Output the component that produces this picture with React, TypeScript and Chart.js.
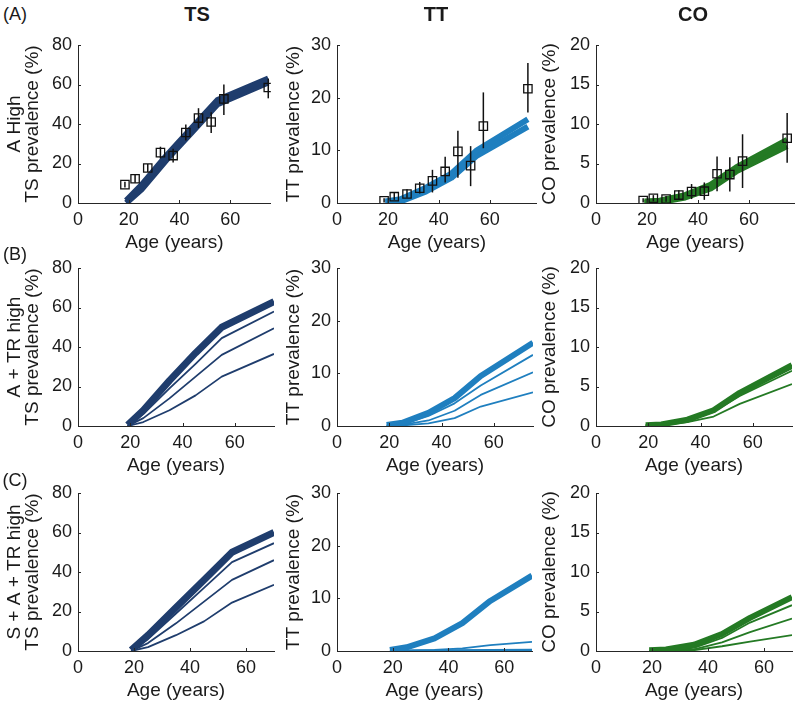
import React, { useEffect, useRef } from "react";
import { Chart, registerables } from "chart.js";

Chart.register(...registerables);

// ---------------- data ----------------
const modelAgesAB = [19, 25, 35, 45, 55, 75];
const modelAgesC = [19, 25, 35, 45, 55, 70];
const obsAges = [18.5, 22.5, 27.5, 32.5, 37.5, 42.5, 47.5, 52.5, 57.5, 75];

// observed (row A)
const tsObs = [9.3, 12.3, 17.7, 25.5, 24, 35.7, 43, 41, 52.7, 58.5];
const tsObsLo = [7.8, 10.3, 15.7, 22.5, 20.5, 31.7, 38, 35.5, 44.5, 53];
const tsObsHi = [10.8, 14.3, 19.7, 28.5, 27.5, 39.7, 48, 46, 60, 63];
const ttObs = [0.4, 1.2, 1.7, 2.8, 4.2, 6.0, 9.8, 7.1, 14.6, 21.7];
const ttObsLo = [0.1, 0.6, 1.0, 1.8, 2.0, 3.9, 4.8, 3.2, 10.4, 17.2];
const ttObsHi = [0.9, 1.9, 2.6, 4.0, 6.3, 8.8, 13.7, 10.8, 21.0, 26.6];
const coObs = [0.3, 0.6, 0.5, 1.0, 1.45, 1.5, 3.7, 3.6, 5.3, 8.2];
const coObsLo = [0.05, 0.2, 0.15, 0.4, 0.5, 0.4, 1.5, 1.45, 1.9, 5.1];
const coObsHi = [0.6, 1.0, 0.9, 1.6, 2.4, 2.6, 5.9, 5.8, 8.7, 11.4];

// model band (row A)
const tsBandLoA = [0, 6.8, 22, 36, 50, 61];
const tsBandHiA = [1.2, 9, 24.2, 38.2, 52.2, 63];
const ttBandLoA = [0, 0.3, 2.2, 4.8, 9.0, 14.5];
const ttBandHiA = [0.3, 0.7, 2.9, 5.6, 10.0, 15.9];
const coBandLoA = [0, 0.1, 0.7, 1.85, 4.0, 7.2];
const coBandHiA = [0.2, 0.3, 1.0, 2.3, 4.5, 8.0];

// row B (A + TR high)
const tsB1 = [0.5, 8, 23, 37, 50, 63];
const tsB2 = [0, 6, 19, 31.5, 44.5, 58];
const tsB3 = [0, 4, 14, 25, 36, 49.5];
const tsB4 = [0, 2, 8, 15.5, 25, 36.5];
const ttB1 = [0.2, 0.6, 2.5, 5.3, 9.5, 15.8];
const ttB2 = [0.1, 0.3, 1.9, 4.3, 7.7, 13.5];
const ttB3 = [0.05, 0.2, 1.05, 2.9, 5.9, 10.2];
const ttB4 = [0, 0.1, 0.5, 1.5, 3.7, 6.4];
const coB1 = [0.1, 0.2, 0.8, 2.0, 4.2, 7.7];
const coB2 = [0.1, 0.2, 0.75, 1.9, 4.0, 7.3];
const coB3 = [0.1, 0.2, 0.7, 1.8, 3.8, 7.0];
const coB4 = [0.05, 0.1, 0.5, 1.2, 2.8, 5.3];

// row C (S + A + TR high)
const tsC1 = [0.5, 8, 22, 36, 50, 60];
const tsC2 = [0, 6, 19, 32, 45, 54.6];
const tsC3 = [0, 4, 14, 25, 36, 46];
const tsC4 = [0, 2, 8, 15, 24.5, 33.5];
const ttC1 = [0.2, 0.7, 2.4, 5.3, 9.5, 14.3];
const ttC2 = [0.05, 0.1, 0.2, 0.5, 1.1, 1.75];
const ttC3 = [0, 0.05, 0.1, 0.15, 0.2, 0.25];
const ttC4 = [0, 0, 0.05, 0.1, 0.1, 0.15];
const coC1 = [0.1, 0.2, 0.8, 2.15, 4.2, 6.8];
const coC2 = [0.05, 0.15, 0.4, 1.65, 3.6, 5.8];
const coC3 = [0, 0.1, 0.2, 1.1, 2.4, 4.1];
const coC4 = [0, 0.05, 0.1, 0.6, 1.2, 2.0];

// ticks and labels
const xTicks = [0, 20, 40, 60];
const tsTicks = [0, 20, 40, 60, 80];
const ttTicks = [0, 10, 20, 30];
const coTicks = [0, 5, 10, 15, 20];
const xTitle = "Age (years)";
const ttTitle = "TT prevalence (%)";
const coTitle = "CO prevalence (%)";
const tsTitleA = ["A High", "TS prevalence (%)"];
const tsTitleB = ["A + TR high", "TS prevalence (%)"];
const tsTitleC = ["S + A + TR high", "TS prevalence (%)"];
const colTitles = ["TS", "TT", "CO"];
const rowLabels = ["(A)", "(B)", "(C)"];

// ---------------- style ----------------
const FONT = "'Liberation Sans', Arial, Helvetica, sans-serif";
const TEXT = "#1a1a1a";
const AXIS = "#262626";
const C_TS = "#1f3d6d";
const C_TT = "#1f7fbf";
const C_CO = "#247a24";

Chart.defaults.font.family = FONT;

const PAD_L = 77;
const PAD_T = 12;
const PAD_R = 4;
const PAD_B = 56;

function lineDs(ages: number[], vals: number[], color: string, width: number) {
  return {
    data: ages.map((a, i) => ({ x: a, y: vals[i] })),
    showLine: true,
    borderColor: color,
    backgroundColor: color,
    borderWidth: width,
    pointRadius: 0,
    borderJoinStyle: "round",
    borderCapStyle: "butt",
    tension: 0,
  };
}

function obsDs(ages: number[], vals: number[], lo: number[], hi: number[]) {
  return {
    data: ages.map((a, i) => ({ x: a, y: vals[i] })),
    showLine: false,
    pointStyle: "rect",
    pointRadius: 5.9,
    pointBorderWidth: 1.3,
    pointBorderColor: "#111111",
    pointBackgroundColor: "rgba(0,0,0,0)",
    errLo: lo,
    errHi: hi,
  };
}

const errorBars = {
  id: "errorBars",
  afterDatasetsDraw(chart: any) {
    const { ctx, scales } = chart;
    const xs = scales.x;
    const ys = scales.y;
    ctx.save();
    ctx.strokeStyle = "#111111";
    ctx.lineWidth = 1.5;
    chart.data.datasets.forEach((ds: any) => {
      if (!ds.errLo) return;
      ds.data.forEach((p: any, j: number) => {
        const x = xs.getPixelForValue(p.x);
        ctx.beginPath();
        ctx.moveTo(x, ys.getPixelForValue(ds.errLo[j]));
        ctx.lineTo(x, ys.getPixelForValue(ds.errHi[j]));
        ctx.stroke();
      });
    });
    ctx.restore();
  },
};

const tickMarks = {
  id: "tickMarks",
  afterDraw(chart: any) {
    const { ctx, chartArea, scales } = chart;
    ctx.save();
    ctx.strokeStyle = AXIS;
    ctx.lineWidth = 1;
    ctx.beginPath();
    scales.x.ticks.forEach((t: any) => {
      const px = Math.round(scales.x.getPixelForValue(t.value)) + 0.5;
      ctx.moveTo(px, chartArea.bottom);
      ctx.lineTo(px, chartArea.bottom - 3);
    });
    scales.y.ticks.forEach((t: any) => {
      const py = Math.round(scales.y.getPixelForValue(t.value)) + 0.5;
      ctx.moveTo(chartArea.left, py);
      ctx.lineTo(chartArea.left + 3, py);
    });
    ctx.stroke();
    ctx.restore();
  },
};

type PanelCfg = {
  left: number;
  top: number;
  right: number;
  bottom: number;
  xMax: number;
  yMax: number;
  yTicks: number[];
  yTitle: string | string[];
  yTitlePad: number;
  datasets: any[];
};

function Panel({ cfg }: { cfg: PanelCfg }) {
  const ref = useRef<HTMLCanvasElement>(null);
  const w = cfg.right - cfg.left + PAD_L + PAD_R;
  const h = cfg.bottom - cfg.top + PAD_T + PAD_B;
  useEffect(() => {
    const chart = new Chart(ref.current as HTMLCanvasElement, {
      type: "scatter",
      data: { datasets: cfg.datasets },
      options: {
        responsive: false,
        animation: false,
        events: [],
        layout: { padding: { left: 0, top: PAD_T, right: PAD_R, bottom: 0 } },
        plugins: {
          legend: { display: false },
          tooltip: { enabled: false },
          title: { display: false },
        },
        scales: {
          x: {
            type: "linear",
            min: 0,
            max: cfg.xMax,
            afterBuildTicks: (s: any) => {
              s.ticks = xTicks.map((v) => ({ value: v }));
            },
            afterFit: (s: any) => {
              s.height = PAD_B;
            },
            grid: { display: false, drawTicks: false },
            border: { display: true, color: AXIS, width: 1 },
            ticks: {
              color: TEXT,
              font: { size: 18, lineHeight: 1 },
              padding: 8.5,
              maxRotation: 0,
              autoSkip: false,
            },
            title: {
              display: true,
              text: xTitle,
              color: TEXT,
              font: { size: 19, lineHeight: 0.96 },
              padding: { top: 0, bottom: 6.9 },
            },
          },
          y: {
            type: "linear",
            min: 0,
            max: cfg.yMax,
            afterBuildTicks: (s: any) => {
              s.ticks = cfg.yTicks.map((v) => ({ value: v }));
            },
            afterFit: (s: any) => {
              s.width = PAD_L;
            },
            grid: { display: false, drawTicks: false },
            border: { display: true, color: AXIS, width: 1 },
            ticks: {
              color: TEXT,
              font: { size: 18, lineHeight: 1 },
              padding: 6,
              autoSkip: false,
            },
            title: {
              display: true,
              text: cfg.yTitle,
              color: TEXT,
              font: { size: 19, lineHeight: 0.96 },
              padding: { top: cfg.yTitlePad, bottom: 0 },
            },
          },
        },
      } as any,
      plugins: [errorBars, tickMarks],
    });
    return () => chart.destroy();
  }, []);
  return (
    <canvas
      ref={ref}
      width={w}
      height={h}
      style={{
        position: "absolute",
        left: cfg.left - PAD_L,
        top: cfg.top - PAD_T,
        width: w,
        height: h,
      }}
    />
  );
}

// layout of the 3x3 grid (plot areas in page pixels)
const rowTop = [42, 265, 490];
const rowBottom = [203, 426, 651];
const colLeft = [78, 337, 596];
const colRight = [
  [274, 540, 798],
  [274, 533, 792],
  [274, 532, 792],
];
const xMaxes = [
  [76, 78.5, 78],
  [75, 75, 75],
  [70, 70, 70],
];
const yTitlePads = [4.9, 24.2, 21.9];

function buildPanels(): PanelCfg[] {
  const series = [
    [
      [obsDs(obsAges, tsObs, tsObsLo, tsObsHi), lineDs(modelAgesAB, tsBandHiA, C_TS, 6), lineDs(modelAgesAB, tsBandLoA, C_TS, 6)],
      [obsDs(obsAges, ttObs, ttObsLo, ttObsHi), lineDs(modelAgesAB, ttBandHiA, C_TT, 6), lineDs(modelAgesAB, ttBandLoA, C_TT, 6)],
      [obsDs(obsAges, coObs, coObsLo, coObsHi), lineDs(modelAgesAB, coBandHiA, C_CO, 6), lineDs(modelAgesAB, coBandLoA, C_CO, 6)],
    ],
    [
      [lineDs(modelAgesAB, tsB1, C_TS, 7), lineDs(modelAgesAB, tsB2, C_TS, 1.8), lineDs(modelAgesAB, tsB3, C_TS, 1.8), lineDs(modelAgesAB, tsB4, C_TS, 1.8)],
      [lineDs(modelAgesAB, ttB1, C_TT, 6), lineDs(modelAgesAB, ttB2, C_TT, 1.8), lineDs(modelAgesAB, ttB3, C_TT, 1.8), lineDs(modelAgesAB, ttB4, C_TT, 1.8)],
      [lineDs(modelAgesAB, coB1, C_CO, 6), lineDs(modelAgesAB, coB2, C_CO, 1.8), lineDs(modelAgesAB, coB3, C_CO, 1.8), lineDs(modelAgesAB, coB4, C_CO, 1.8)],
    ],
    [
      [lineDs(modelAgesC, tsC1, C_TS, 7), lineDs(modelAgesC, tsC2, C_TS, 1.8), lineDs(modelAgesC, tsC3, C_TS, 1.8), lineDs(modelAgesC, tsC4, C_TS, 1.8)],
      [lineDs(modelAgesC, ttC1, C_TT, 6), lineDs(modelAgesC, ttC2, C_TT, 1.8), lineDs(modelAgesC, ttC3, C_TT, 1.8), lineDs(modelAgesC, ttC4, C_TT, 1.8)],
      [lineDs(modelAgesC, coC1, C_CO, 6), lineDs(modelAgesC, coC2, C_CO, 1.8), lineDs(modelAgesC, coC3, C_CO, 1.8), lineDs(modelAgesC, coC4, C_CO, 1.8)],
    ],
  ];
  const tsTitles = [tsTitleA, tsTitleB, tsTitleC];
  const yMaxes = [80, 30, 20];
  const yTickSets = [tsTicks, ttTicks, coTicks];
  const out: PanelCfg[] = [];
  for (let r = 0; r < 3; r++) {
    for (let c = 0; c < 3; c++) {
      out.push({
        left: colLeft[c],
        top: rowTop[r],
        right: colRight[r][c],
        bottom: rowBottom[r],
        xMax: xMaxes[r][c],
        yMax: yMaxes[c],
        yTicks: yTickSets[c],
        yTitle: c === 0 ? tsTitles[r] : c === 1 ? ttTitle : coTitle,
        yTitlePad: yTitlePads[c],
        datasets: series[r][c],
      });
    }
  }
  return out;
}

const colTitleX = [197, 436, 693];
const rowLabelY = [13.5, 254, 480];

export default function App() {
  const panels = buildPanels();
  return (
    <div
      style={{
        position: "absolute",
        left: 0,
        top: 0,
        width: 800,
        height: 706,
        overflow: "hidden",
        background: "#ffffff",
        fontFamily: FONT,
        color: TEXT,
      }}
    >
      {panels.map((p, i) => (
        <Panel key={i} cfg={p} />
      ))}
      {colTitles.map((t, i) => (
        <div
          key={"t" + i}
          style={{
            position: "absolute",
            left: colTitleX[i],
            top: 13.5,
            transform: "translate(-50%, -50%)",
            fontWeight: "bold",
            fontSize: 20,
            lineHeight: "20px",
            whiteSpace: "nowrap",
          }}
        >
          {t}
        </div>
      ))}
      {rowLabels.map((t, i) => (
        <div
          key={"r" + i}
          style={{
            position: "absolute",
            left: 15,
            top: rowLabelY[i],
            transform: "translate(-50%, -50%)",
            fontSize: 18,
            lineHeight: "18px",
            whiteSpace: "nowrap",
          }}
        >
          {t}
        </div>
      ))}
    </div>
  );
}
